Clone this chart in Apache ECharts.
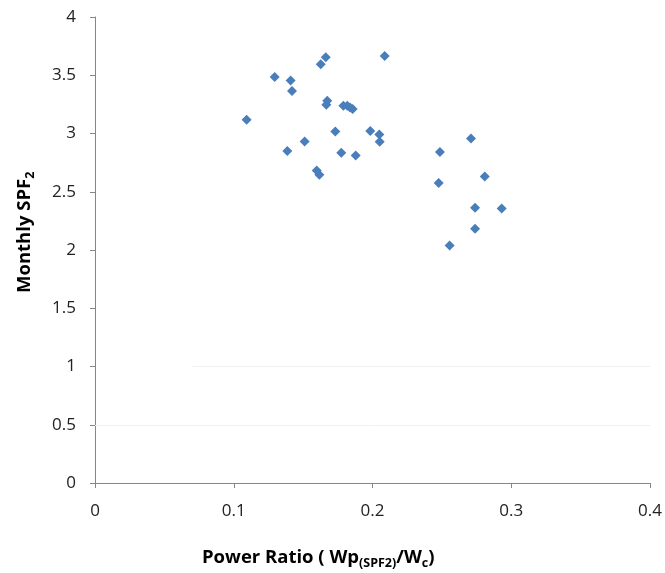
<!DOCTYPE html>
<html><head><meta charset="utf-8">
<script src="https://cdn.jsdelivr.net/npm/echarts@6/dist/echarts.min.js"></script>
<style>html,body{margin:0;padding:0;background:#fff}#c{width:665px;height:573px}</style>
</head><body><div id="c"></div>
<script>
var powerRatio = [0.1093,0.1295,0.1410,0.1420,0.1386,0.1511,0.1598,0.1617,0.1627,0.1663,0.1674,0.1667,0.1732,0.1775,0.1790,0.1818,0.1838,0.1857,0.1879,0.1984,0.2049,0.2052,0.2088,0.2710,0.2486,0.2809,0.2477,0.2739,0.2931,0.2739,0.2556];
var monthlySPF2 = [3.119,3.485,3.454,3.365,2.850,2.932,2.683,2.646,3.594,3.654,3.282,3.247,3.018,2.835,3.239,3.239,3.224,3.210,2.812,3.021,2.992,2.930,3.666,2.958,2.841,2.631,2.575,2.363,2.357,2.182,2.039];
var xTicks = [0,0.1,0.2,0.3,0.4];
var yTicks = [0,0.5,1,1.5,2,2.5,3,3.5,4];

var pts = powerRatio.map(function(x,i){return [x, monthlySPF2[i]];});
var chart = echarts.init(document.getElementById('c'));
var font = '"Open Sans", "Liberation Sans", sans-serif';
chart.setOption({
  animation:false,
  grid:{left:95,right:15,top:17,bottom:90},
  xAxis:{type:'value',min:xTicks[0],max:xTicks[xTicks.length-1],interval:0.1,
    axisLine:{show:true,lineStyle:{color:'#868686',width:1}},
    axisTick:{show:true,length:5,lineStyle:{color:'#868686'}},
    splitLine:{show:false},
    axisLabel:{color:'#222',fontSize:17,fontFamily:font,margin:20,
      formatter:function(v){return String(+v.toFixed(1));}}},
  yAxis:{type:'value',min:yTicks[0],max:yTicks[yTicks.length-1],interval:0.5,
    axisLine:{show:true,lineStyle:{color:'#868686',width:1}},
    axisTick:{show:true,length:5,lineStyle:{color:'#868686'}},
    splitLine:{show:false},
    axisLabel:{color:'#222',fontSize:17,fontFamily:font,margin:19,
      formatter:function(v){return String(+v.toFixed(1));}}},
  graphic:[
    {type:'text',left:202,top:548,style:{
      text:'{b|Power Ratio ( Wp}{s|(SPF2)}{b|/W}{s|c}{b|)}',
      rich:{b:{fontSize:18.5,fontWeight:'bold',fontFamily:font,fill:'#000',lineHeight:24},
            s:{fontSize:12.5,fontWeight:'bold',fontFamily:font,fill:'#000',lineHeight:15,verticalAlign:'bottom'}}}},
    {type:'text',x:13,y:293,rotation:Math.PI/2,style:{
      text:'{b|Monthly SPF}{s|2}',
      rich:{b:{fontSize:18.5,fontWeight:'bold',fontFamily:font,fill:'#000',lineHeight:24},
            s:{fontSize:12.5,fontWeight:'bold',fontFamily:font,fill:'#000',lineHeight:15,verticalAlign:'bottom'}}}}
  ],
  series:[{type:'scatter',data:pts,symbol:'diamond',symbolSize:10,
    itemStyle:{color:'#4a7ebb',opacity:1},
    markLine:{silent:true,symbol:'none',label:{show:false},
      lineStyle:{color:'#f0f0f0',type:'solid',width:1},
      data:[[{coord:[0.07,1]},{coord:[0.4,1]}],[{coord:[0,0.5]},{coord:[0.4,0.5]}]]}}]
});
</script></body></html>
